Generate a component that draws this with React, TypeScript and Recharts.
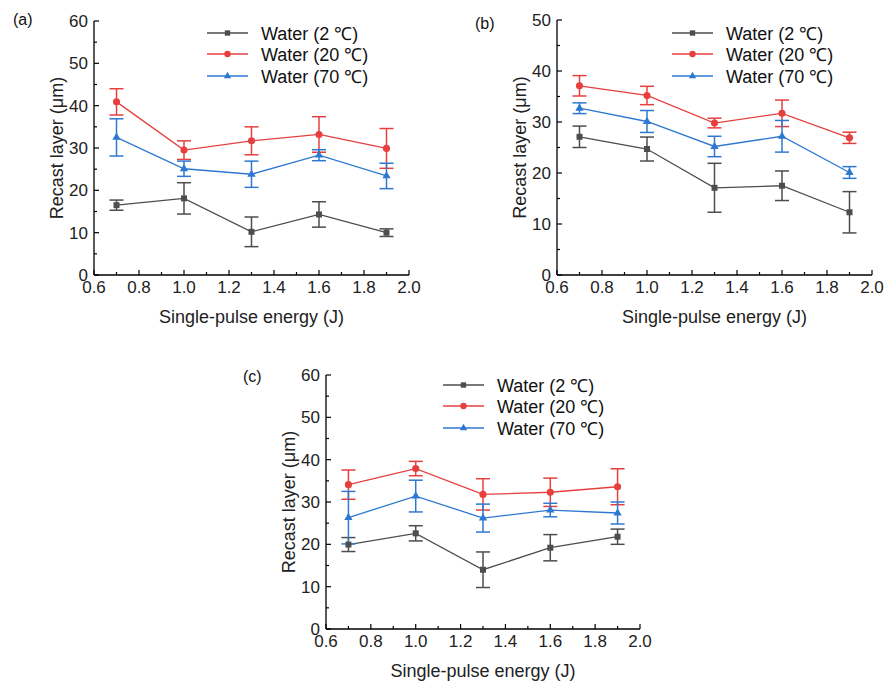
import React from "react";
import { LineChart, Line, XAxis, YAxis, ErrorBar, Legend, Label, Symbols } from "recharts";

const FONT = '"Liberation Sans", Arial, Helvetica, sans-serif';

const energy = [0.7, 1.0, 1.3, 1.6, 1.9];
const xTicks = [0.6, 0.7, 0.8, 0.9, 1.0, 1.1, 1.2, 1.3, 1.4, 1.5, 1.6, 1.7, 1.8, 1.9, 2.0];
const yTicks60 = [0, 5, 10, 15, 20, 25, 30, 35, 40, 45, 50, 55, 60];
const yTicks50 = [0, 5, 10, 15, 20, 25, 30, 35, 40, 45, 50];
const seriesNames = ["Water (2 ℃)", "Water (20 ℃)", "Water (70 ℃)"];

// (a)
const a2 = [16.5, 18.1, 10.2, 14.3, 10.0];
const a2Err = [1.2, 3.7, 3.5, 3.0, 0.9];
const a20 = [40.9, 29.5, 31.7, 33.2, 29.9];
const a20Err = [3.1, 2.2, 3.3, 4.2, 4.7];
const a70 = [32.5, 25.1, 23.8, 28.3, 23.4];
const a70Err = [4.4, 1.8, 3.1, 1.3, 3.0];

// (b)
const b2 = [27.1, 24.7, 17.1, 17.5, 12.3];
const b2Err = [2.1, 2.35, 4.8, 2.9, 4.05];
const b20 = [37.1, 35.2, 29.8, 31.7, 26.9];
const b20Err = [2.0, 1.8, 0.95, 2.6, 1.1];
const b70 = [32.7, 30.1, 25.2, 27.2, 20.1];
const b70Err = [1.05, 2.15, 2.0, 3.1, 1.15];

// (c)
const c2 = [19.95, 22.6, 14.0, 19.2, 21.8];
const c2Err = [1.65, 1.8, 4.2, 3.1, 1.8];
const c20 = [34.1, 37.9, 31.8, 32.3, 33.6];
const c20Err = [3.45, 1.7, 3.7, 3.35, 4.25];
const c70 = [26.3, 31.4, 26.2, 28.1, 27.4];
const c70Err = [6.2, 3.75, 3.3, 1.6, 2.6];

const series = [
  { key: "w2", color: "#4d4d4d", shape: "square", size: 36 },
  { key: "w20", color: "#e5403f", shape: "circle", size: 40 },
  { key: "w70", color: "#2e78d2", shape: "triangle", size: 30 },
];

function buildRows(m2: number[], e2: number[], m20: number[], e20: number[], m70: number[], e70: number[]) {
  return energy.map((x, i) => ({
    x,
    w2: m2[i], w2e: e2[i],
    w20: m20[i], w20e: e20[i],
    w70: m70[i], w70e: e70[i],
  }));
}

const Y_AXIS_W = 60;
const X_AXIS_H = 30;

const XTick = (props: any) => {
  const { x, y, payload } = props;
  const v = payload.value;
  const major = Math.round(v * 10) % 2 === 0;
  return (
    <g>
      <line x1={x} x2={x} y1={y} y2={y - (major ? 5 : 3)} stroke="#000" strokeWidth={1.2} />
      {major && (
        <text x={x} y={y + 18} textAnchor="middle" fontSize={17} fontFamily={FONT} fill="#222">
          {v.toFixed(1)}
        </text>
      )}
    </g>
  );
};

const YTick = (props: any) => {
  const { x, y, payload } = props;
  const v = payload.value;
  const major = v % 10 === 0;
  return (
    <g>
      <line x1={x} x2={x + (major ? 5 : 3)} y1={y} y2={y} stroke="#000" strokeWidth={1.2} />
      {major && (
        <text x={x - 6} y={y + 6} textAnchor="end" fontSize={17} fontFamily={FONT} fill="#222">
          {v}
        </text>
      )}
    </g>
  );
};

const shapeOf: Record<string, any> = {};
series.forEach((s, i) => (shapeOf[seriesNames[i]] = s));

const LegendBox = (props: any) => {
  const payload = props.payload || [];
  return (
    <div style={{ fontFamily: FONT, fontSize: 18, color: "#111" }}>
      {payload.map((entry: any) => {
        const s = shapeOf[entry.value];
        return (
          <div key={entry.value} style={{ display: "flex", alignItems: "center", height: 21.5 }}>
            <svg width={41} height={12}>
              <line x1={0} x2={41} y1={6} y2={6} stroke={s.color} strokeWidth={1.3} />
              <Symbols cx={20.5} cy={6} type={s.shape} size={s.size * 0.8} fill={s.color} />
            </svg>
            <span style={{ marginLeft: 13, whiteSpace: "nowrap" }}>{entry.value}</span>
          </div>
        );
      })}
    </div>
  );
};

const makeDot = (shape: any, size: number, color: string) => (p: any) =>
  <Symbols key={`d-${p.index}`} cx={p.cx} cy={p.cy} type={shape} size={size} fill={color} />;

interface PanelProps {
  data: any[];
  yMax: number;
  yTicks: number[];
  box: { left: number; top: number; width: number; height: number };
  margin: { top: number; right: number; bottom: number; left: number };
  legend: { left: number; top: number };
  letter: { text: string; left: number; top: number };
}

const Panel: React.FC<PanelProps> = ({ data, yMax, yTicks, box, margin, legend, letter }) => {
  const plotLeft = margin.left + Y_AXIS_W;
  const plotRight = box.width - margin.right;
  const plotTop = margin.top;
  const plotBottom = box.height - margin.bottom - X_AXIS_H;
  const yTitleX = plotLeft - 37;
  const yTitleY = (plotTop + plotBottom) / 2;
  return (
    <div style={{ position: "absolute", left: box.left, top: box.top, width: box.width, height: box.height }}>
      <div
        style={{
          position: "absolute", left: letter.left - box.left, top: letter.top - box.top,
          fontFamily: FONT, fontSize: 16, lineHeight: "18px", color: "#111",
        }}
      >
        {letter.text}
      </div>
      <LineChart width={box.width} height={box.height} data={data} margin={margin}>
        <XAxis
          dataKey="x"
          type="number"
          domain={[0.6, 2.0]}
          ticks={xTicks}
          interval={0}
          tickSize={0}
          tickMargin={0}
          tickLine={false}
          tick={<XTick />}
          height={X_AXIS_H}
          axisLine={{ stroke: "#000", strokeWidth: 1.3 }}
          label={
            <Label
              content={() => (
                <text
                  x={(plotLeft + plotRight) / 2}
                  y={plotBottom + 48}
                  textAnchor="middle"
                  fontSize={18}
                  fontFamily={FONT}
                  fill="#222"
                >
                  Single-pulse energy (J)
                </text>
              )}
            />
          }
        />
        <YAxis
          type="number"
          domain={[0, yMax]}
          ticks={yTicks}
          interval={0}
          tickSize={0}
          tickMargin={0}
          tickLine={false}
          tick={<YTick />}
          width={Y_AXIS_W}
          axisLine={{ stroke: "#000", strokeWidth: 1.3 }}
          label={
            <Label
              content={() => (
                <text
                  x={yTitleX}
                  y={yTitleY}
                  transform={`rotate(-90 ${yTitleX} ${yTitleY})`}
                  textAnchor="middle"
                  dominantBaseline="central"
                  fontSize={18}
                  fontFamily={FONT}
                  fill="#222"
                >
                  Recast layer (μm)
                </text>
              )}
            />
          }
        />
        <Legend
          layout="vertical"
          align="center"
          verticalAlign="middle"
          content={<LegendBox />}
          wrapperStyle={{ left: legend.left, top: legend.top, width: "auto" }}
        />
        {series.map((s, i) => (
          <Line
            key={s.key}
            name={seriesNames[i]}
            dataKey={s.key}
            type="linear"
            stroke={s.color}
            strokeWidth={1.3}
            dot={makeDot(s.shape, s.size, s.color)}
            activeDot={false}
            isAnimationActive={false}
          >
            <ErrorBar dataKey={`${s.key}e`} width={7} strokeWidth={1.5} stroke={s.color} direction="y" />
          </Line>
        ))}
      </LineChart>
    </div>
  );
};

const dataA = buildRows(a2, a2Err, a20, a20Err, a70, a70Err);
const dataB = buildRows(b2, b2Err, b20, b20Err, b70, b70Err);
const dataC = buildRows(c2, c2Err, c20, c20Err, c70, c70Err);

export default function App() {
  return (
    <div style={{ position: "absolute", left: 0, top: 0, width: 889, height: 684, background: "#fff", overflow: "hidden" }}>
      <Panel
        data={dataA}
        yMax={60}
        yTicks={yTicks60}
        box={{ left: 0, top: 0, width: 440, height: 335 }}
        margin={{ top: 21, right: 31, bottom: 30, left: 34 }}
        legend={{ left: 207, top: 22 }}
        letter={{ text: "(a)", left: 13, top: 11 }}
      />
      <Panel
        data={dataB}
        yMax={50}
        yTicks={yTicks50}
        box={{ left: 460, top: 0, width: 429, height: 335 }}
        margin={{ top: 20, right: 17, bottom: 30, left: 37 }}
        legend={{ left: 212, top: 22 }}
        letter={{ text: "(b)", left: 475, top: 15 }}
      />
      <Panel
        data={dataC}
        yMax={60}
        yTicks={yTicks60}
        box={{ left: 230, top: 355, width: 440, height: 334 }}
        margin={{ top: 20, right: 30, bottom: 30, left: 36 }}
        legend={{ left: 213, top: 19 }}
        letter={{ text: "(c)", left: 243, top: 368 }}
      />
    </div>
  );
}
